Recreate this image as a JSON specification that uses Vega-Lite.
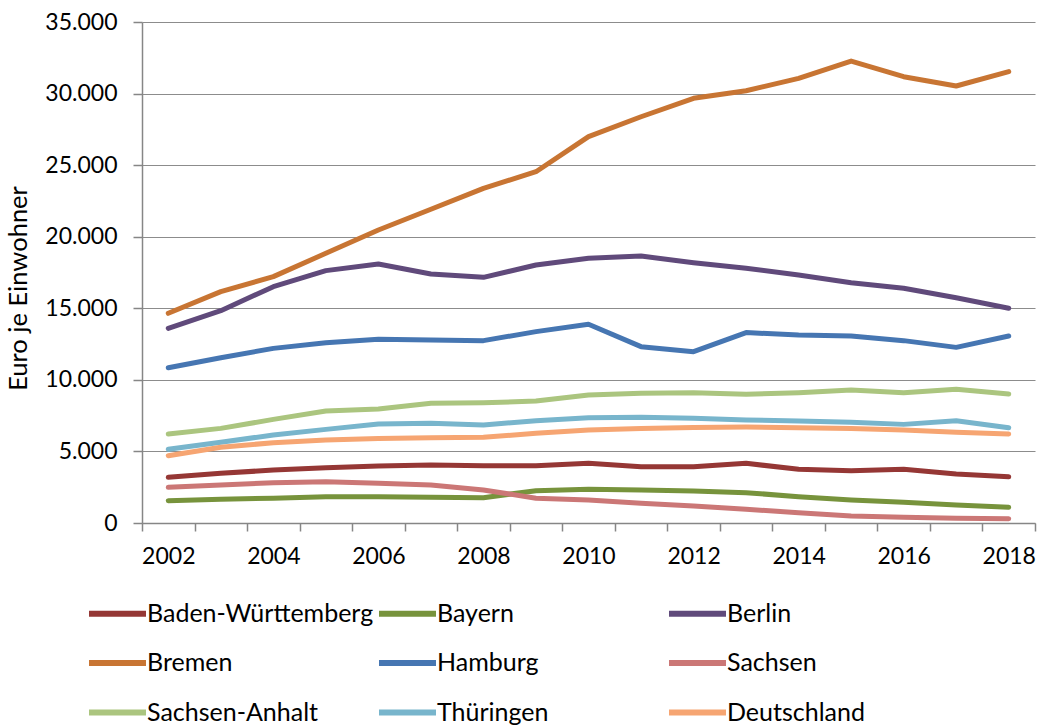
{
  "$schema": "https://vega.github.io/schema/vega-lite/v6.json",
  "autosize": "none",
  "width": 893,
  "height": 501,
  "padding": {"left": 142, "top": 22, "right": 6, "bottom": 202},
  "background": "white",
  "data": {"values": [
    {"year": 2002, "region": "Baden-Württemberg", "value": 3190},
    {"year": 2003, "region": "Baden-Württemberg", "value": 3470},
    {"year": 2004, "region": "Baden-Württemberg", "value": 3700},
    {"year": 2005, "region": "Baden-Württemberg", "value": 3860},
    {"year": 2006, "region": "Baden-Württemberg", "value": 3980},
    {"year": 2007, "region": "Baden-Württemberg", "value": 4050},
    {"year": 2008, "region": "Baden-Württemberg", "value": 4000},
    {"year": 2009, "region": "Baden-Württemberg", "value": 4000},
    {"year": 2010, "region": "Baden-Württemberg", "value": 4170},
    {"year": 2011, "region": "Baden-Württemberg", "value": 3930},
    {"year": 2012, "region": "Baden-Württemberg", "value": 3930},
    {"year": 2013, "region": "Baden-Württemberg", "value": 4170},
    {"year": 2014, "region": "Baden-Württemberg", "value": 3750},
    {"year": 2015, "region": "Baden-Württemberg", "value": 3650},
    {"year": 2016, "region": "Baden-Württemberg", "value": 3750},
    {"year": 2017, "region": "Baden-Württemberg", "value": 3420},
    {"year": 2018, "region": "Baden-Württemberg", "value": 3230},
    {"year": 2002, "region": "Bayern", "value": 1560},
    {"year": 2003, "region": "Bayern", "value": 1660},
    {"year": 2004, "region": "Bayern", "value": 1730},
    {"year": 2005, "region": "Bayern", "value": 1840},
    {"year": 2006, "region": "Bayern", "value": 1840},
    {"year": 2007, "region": "Bayern", "value": 1800},
    {"year": 2008, "region": "Bayern", "value": 1770},
    {"year": 2009, "region": "Bayern", "value": 2260},
    {"year": 2010, "region": "Bayern", "value": 2350},
    {"year": 2011, "region": "Bayern", "value": 2310},
    {"year": 2012, "region": "Bayern", "value": 2240},
    {"year": 2013, "region": "Bayern", "value": 2120},
    {"year": 2014, "region": "Bayern", "value": 1840},
    {"year": 2015, "region": "Bayern", "value": 1610},
    {"year": 2016, "region": "Bayern", "value": 1450},
    {"year": 2017, "region": "Bayern", "value": 1260},
    {"year": 2018, "region": "Bayern", "value": 1100},
    {"year": 2002, "region": "Berlin", "value": 13600},
    {"year": 2003, "region": "Berlin", "value": 14830},
    {"year": 2004, "region": "Berlin", "value": 16510},
    {"year": 2005, "region": "Berlin", "value": 17630},
    {"year": 2006, "region": "Berlin", "value": 18090},
    {"year": 2007, "region": "Berlin", "value": 17400},
    {"year": 2008, "region": "Berlin", "value": 17160},
    {"year": 2009, "region": "Berlin", "value": 18020},
    {"year": 2010, "region": "Berlin", "value": 18490},
    {"year": 2011, "region": "Berlin", "value": 18650},
    {"year": 2012, "region": "Berlin", "value": 18180},
    {"year": 2013, "region": "Berlin", "value": 17790},
    {"year": 2014, "region": "Berlin", "value": 17330},
    {"year": 2015, "region": "Berlin", "value": 16790},
    {"year": 2016, "region": "Berlin", "value": 16400},
    {"year": 2017, "region": "Berlin", "value": 15740},
    {"year": 2018, "region": "Berlin", "value": 15000},
    {"year": 2002, "region": "Bremen", "value": 14650},
    {"year": 2003, "region": "Bremen", "value": 16160},
    {"year": 2004, "region": "Bremen", "value": 17210},
    {"year": 2005, "region": "Bremen", "value": 18840},
    {"year": 2006, "region": "Bremen", "value": 20470},
    {"year": 2007, "region": "Bremen", "value": 21920},
    {"year": 2008, "region": "Bremen", "value": 23380},
    {"year": 2009, "region": "Bremen", "value": 24540},
    {"year": 2010, "region": "Bremen", "value": 26990},
    {"year": 2011, "region": "Bremen", "value": 28380},
    {"year": 2012, "region": "Bremen", "value": 29670},
    {"year": 2013, "region": "Bremen", "value": 30200},
    {"year": 2014, "region": "Bremen", "value": 31060},
    {"year": 2015, "region": "Bremen", "value": 32270},
    {"year": 2016, "region": "Bremen", "value": 31180},
    {"year": 2017, "region": "Bremen", "value": 30530},
    {"year": 2018, "region": "Bremen", "value": 31530},
    {"year": 2002, "region": "Hamburg", "value": 10850},
    {"year": 2003, "region": "Hamburg", "value": 11550},
    {"year": 2004, "region": "Hamburg", "value": 12200},
    {"year": 2005, "region": "Hamburg", "value": 12600},
    {"year": 2006, "region": "Hamburg", "value": 12830},
    {"year": 2007, "region": "Hamburg", "value": 12780},
    {"year": 2008, "region": "Hamburg", "value": 12740},
    {"year": 2009, "region": "Hamburg", "value": 13370},
    {"year": 2010, "region": "Hamburg", "value": 13880},
    {"year": 2011, "region": "Hamburg", "value": 12320},
    {"year": 2012, "region": "Hamburg", "value": 11970},
    {"year": 2013, "region": "Hamburg", "value": 13300},
    {"year": 2014, "region": "Hamburg", "value": 13130},
    {"year": 2015, "region": "Hamburg", "value": 13060},
    {"year": 2016, "region": "Hamburg", "value": 12740},
    {"year": 2017, "region": "Hamburg", "value": 12270},
    {"year": 2018, "region": "Hamburg", "value": 13060},
    {"year": 2002, "region": "Sachsen", "value": 2490},
    {"year": 2003, "region": "Sachsen", "value": 2650},
    {"year": 2004, "region": "Sachsen", "value": 2820},
    {"year": 2005, "region": "Sachsen", "value": 2890},
    {"year": 2006, "region": "Sachsen", "value": 2770},
    {"year": 2007, "region": "Sachsen", "value": 2650},
    {"year": 2008, "region": "Sachsen", "value": 2310},
    {"year": 2009, "region": "Sachsen", "value": 1730},
    {"year": 2010, "region": "Sachsen", "value": 1610},
    {"year": 2011, "region": "Sachsen", "value": 1380},
    {"year": 2012, "region": "Sachsen", "value": 1190},
    {"year": 2013, "region": "Sachsen", "value": 960},
    {"year": 2014, "region": "Sachsen", "value": 720},
    {"year": 2015, "region": "Sachsen", "value": 490},
    {"year": 2016, "region": "Sachsen", "value": 400},
    {"year": 2017, "region": "Sachsen", "value": 330},
    {"year": 2018, "region": "Sachsen", "value": 300},
    {"year": 2002, "region": "Sachsen-Anhalt", "value": 6220},
    {"year": 2003, "region": "Sachsen-Anhalt", "value": 6610},
    {"year": 2004, "region": "Sachsen-Anhalt", "value": 7240},
    {"year": 2005, "region": "Sachsen-Anhalt", "value": 7820},
    {"year": 2006, "region": "Sachsen-Anhalt", "value": 7960},
    {"year": 2007, "region": "Sachsen-Anhalt", "value": 8360},
    {"year": 2008, "region": "Sachsen-Anhalt", "value": 8400},
    {"year": 2009, "region": "Sachsen-Anhalt", "value": 8520},
    {"year": 2010, "region": "Sachsen-Anhalt", "value": 8940},
    {"year": 2011, "region": "Sachsen-Anhalt", "value": 9060},
    {"year": 2012, "region": "Sachsen-Anhalt", "value": 9100},
    {"year": 2013, "region": "Sachsen-Anhalt", "value": 8990},
    {"year": 2014, "region": "Sachsen-Anhalt", "value": 9100},
    {"year": 2015, "region": "Sachsen-Anhalt", "value": 9290},
    {"year": 2016, "region": "Sachsen-Anhalt", "value": 9100},
    {"year": 2017, "region": "Sachsen-Anhalt", "value": 9340},
    {"year": 2018, "region": "Sachsen-Anhalt", "value": 9010},
    {"year": 2002, "region": "Thüringen", "value": 5150},
    {"year": 2003, "region": "Thüringen", "value": 5640},
    {"year": 2004, "region": "Thüringen", "value": 6150},
    {"year": 2005, "region": "Thüringen", "value": 6540},
    {"year": 2006, "region": "Thüringen", "value": 6920},
    {"year": 2007, "region": "Thüringen", "value": 6960},
    {"year": 2008, "region": "Thüringen", "value": 6850},
    {"year": 2009, "region": "Thüringen", "value": 7150},
    {"year": 2010, "region": "Thüringen", "value": 7360},
    {"year": 2011, "region": "Thüringen", "value": 7380},
    {"year": 2012, "region": "Thüringen", "value": 7310},
    {"year": 2013, "region": "Thüringen", "value": 7200},
    {"year": 2014, "region": "Thüringen", "value": 7130},
    {"year": 2015, "region": "Thüringen", "value": 7030},
    {"year": 2016, "region": "Thüringen", "value": 6890},
    {"year": 2017, "region": "Thüringen", "value": 7150},
    {"year": 2018, "region": "Thüringen", "value": 6660},
    {"year": 2002, "region": "Deutschland", "value": 4700},
    {"year": 2003, "region": "Deutschland", "value": 5290},
    {"year": 2004, "region": "Deutschland", "value": 5610},
    {"year": 2005, "region": "Deutschland", "value": 5800},
    {"year": 2006, "region": "Deutschland", "value": 5910},
    {"year": 2007, "region": "Deutschland", "value": 5960},
    {"year": 2008, "region": "Deutschland", "value": 5990},
    {"year": 2009, "region": "Deutschland", "value": 6270},
    {"year": 2010, "region": "Deutschland", "value": 6500},
    {"year": 2011, "region": "Deutschland", "value": 6610},
    {"year": 2012, "region": "Deutschland", "value": 6680},
    {"year": 2013, "region": "Deutschland", "value": 6710},
    {"year": 2014, "region": "Deutschland", "value": 6660},
    {"year": 2015, "region": "Deutschland", "value": 6610},
    {"year": 2016, "region": "Deutschland", "value": 6500},
    {"year": 2017, "region": "Deutschland", "value": 6340},
    {"year": 2018, "region": "Deutschland", "value": 6220}
  ]},
  "mark": {"type": "line", "strokeWidth": 5, "strokeCap": "round", "strokeJoin": "round"},
  "encoding": {
    "x": {
      "field": "year", "type": "quantitative",
      "scale": {"domain": [2001.5, 2018.5], "nice": false, "zero": false},
      "axis": {
        "title": null,
        "values": [2001.5, 2002.5, 2003.5, 2004.5, 2005.5, 2006.5, 2007.5, 2008.5, 2009.5, 2010.5, 2011.5, 2012.5, 2013.5, 2014.5, 2015.5, 2016.5, 2017.5, 2018.5],
        "labelExpr": "(datum.value + 0.5) % 2 == 0 ? toString(datum.value + 0.5) : ''",
        "labelOffset": 26.3,
        "labelFlush": false,
        "labelOverlap": false,
        "labelBound": false,
        "grid": false,
        "tickSize": 8,
        "labelPadding": 14
      }
    },
    "y": {
      "field": "value", "type": "quantitative",
      "scale": {"domain": [0, 35000], "nice": false},
      "axis": {
        "title": "Euro je Einwohner",
        "values": [0, 5000, 10000, 15000, 20000, 25000, 30000, 35000],
        "labelExpr": "replace(format(datum.value, ','), ',', '.')",
        "tickSize": 9,
        "labelPadding": 16,
        "titlePadding": 13,
        "titleY": 266,
        "grid": true
      }
    },
    "color": {
      "field": "region", "type": "nominal",
      "scale": {
        "domain": ["Baden-Württemberg", "Bayern", "Berlin", "Bremen", "Hamburg", "Sachsen", "Sachsen-Anhalt", "Thüringen", "Deutschland"],
        "range": ["#953735", "#77933C", "#604A7B", "#C87533", "#4676B2", "#CB7776", "#ABC57F", "#78B5CC", "#F6A572"]
      },
      "legend": {
        "title": null,
        "orient": "none",
        "legendX": -56,
        "legendY": 560,
        "direction": "horizontal",
        "columns": 3,
        "gridAlign": "all",
        "symbolType": "stroke",
        "symbolSize": 3249,
        "symbolStrokeWidth": 6,
        "labelOffset": -2,
        "labelLimit": 500,
        "columnPadding": -7,
        "rowPadding": 4.5,
        "labelFontSize": 25,
        "labelFont": "Lato",
        "labelColor": "#000000"
      }
    },
    "order": {"field": "year", "type": "quantitative"}
  },
  "config": {
    "font": "Lato",
    "view": {"stroke": null},
    "axis": {
      "labelFont": "Lato",
      "labelFontSize": 23,
      "labelColor": "#000000",
      "titleFont": "Lato",
      "titleFontSize": 25.5,
      "titleFontWeight": "normal",
      "titleColor": "#000000",
      "domainColor": "#868686",
      "domainWidth": 1.5,
      "tickColor": "#868686",
      "tickWidth": 1.5,
      "gridColor": "#8c8c8c",
      "gridWidth": 1.2
    }
  }
}
